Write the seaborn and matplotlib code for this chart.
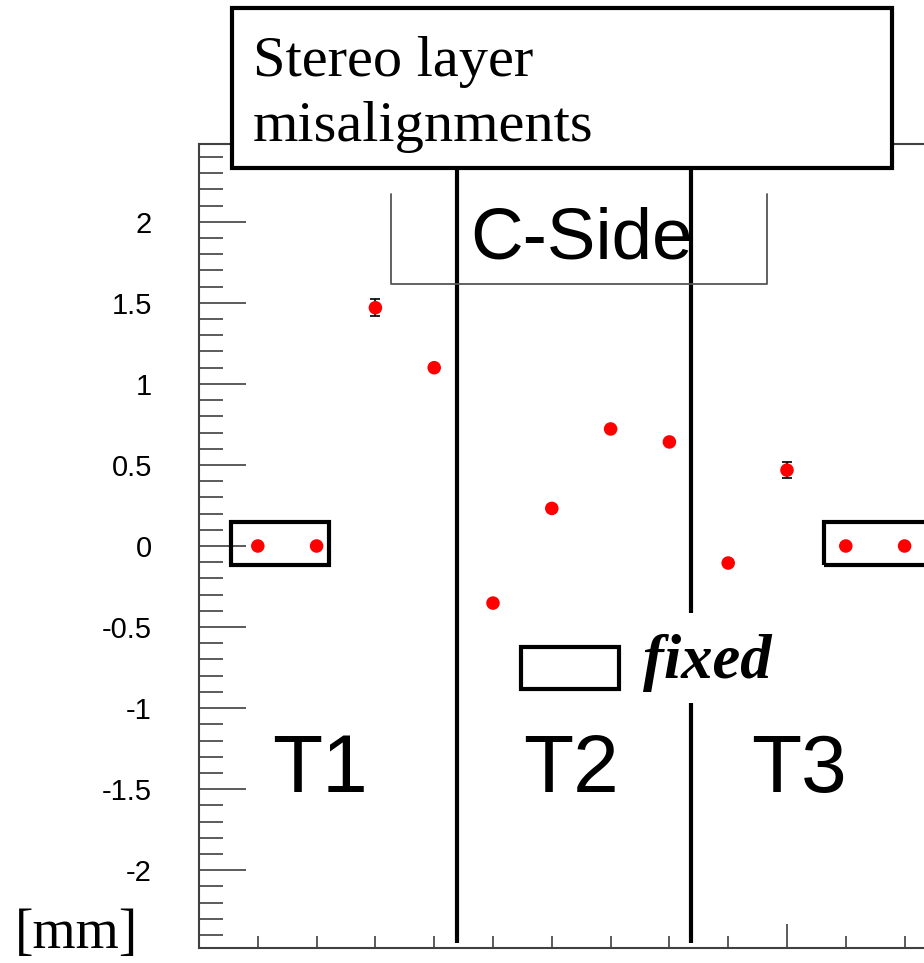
import matplotlib
matplotlib.use("Agg")
import matplotlib.pyplot as plt
from matplotlib.patches import Rectangle
from matplotlib.ticker import MultipleLocator, FixedLocator, FuncFormatter
import seaborn as sns
import pandas as pd

# Misalignment per stereo layer (C-side), layers 1..12
layers = [1, 2, 3, 4, 5, 6, 7, 8, 9, 10, 11, 12]
shift_mm = [0.0, 0.0, 1.47, 1.10, -0.352, 0.232, 0.722, 0.642, -0.105, 0.468, 0.0, 0.0]
shift_err = [0.0, 0.0, 0.052, 0.02, 0.02, 0.02, 0.02, 0.02, 0.02, 0.05, 0.0, 0.0]
station_labels = ["T1", "T2", "T3"]
station_label_x = [2.06, 6.33, 10.2]
station_bounds = [4.39, 8.37]

sns.set_theme(style="white")
plt.rcParams["axes.unicode_minus"] = False
plt.rcParams["font.family"] = ["Liberation Sans", "DejaVu Sans"]
plt.rcParams["text.color"] = "black"
plt.rcParams["ytick.labelcolor"] = "black"

df = pd.DataFrame({"layer": layers, "shift": shift_mm, "err": shift_err})

W, H = 924, 963
fig = plt.figure(figsize=(W / 100, H / 100), dpi=100)
ax = fig.add_axes([199 / W, 15 / H, (W - 199) / W, (948 - 144) / H])

ax.set_xlim(0, 12.33)
ax.set_ylim(-2.48, 2.48)

# error bars then the markers
ax.errorbar(df["layer"], df["shift"], yerr=df["err"], fmt="none",
            ecolor="black", elinewidth=1.2, capsize=3.5, capthick=1.2, zorder=3)
sns.scatterplot(data=df, x="layer", y="shift", ax=ax, color="#ff0000",
                s=95, edgecolor="none", zorder=4, legend=False)

# axis frame and ticks
spine_col = "#404040"
for side in ["left", "bottom", "top"]:
    ax.spines[side].set_visible(True)
    ax.spines[side].set_color(spine_col)
    ax.spines[side].set_linewidth(1.5)
ax.spines["right"].set_visible(False)

ax.yaxis.set_major_locator(MultipleLocator(0.5))
ax.yaxis.set_minor_locator(MultipleLocator(0.1))
ax.xaxis.set_major_locator(FixedLocator([0, 10]))
ax.xaxis.set_minor_locator(FixedLocator([1, 2, 3, 4, 5, 6, 7, 8, 9, 11, 12]))
ax.yaxis.set_major_formatter(FuncFormatter(lambda v, p: ("%g" % v).replace("\u2212", "-")))
ax.xaxis.set_major_formatter(FuncFormatter(lambda v, p: ""))

ax.tick_params(axis="y", which="major", direction="in", length=34, width=1.2,
               color=spine_col, labelsize=21, labelcolor="black", pad=34, left=True)
ax.tick_params(axis="y", which="minor", direction="in", length=17, width=1.2,
               color=spine_col, left=True)
ax.tick_params(axis="x", which="major", direction="in", length=17, width=1.2,
               color=spine_col, bottom=True)
ax.tick_params(axis="x", which="minor", direction="in", length=8.5, width=1.2,
               color=spine_col, bottom=True)
ax.set_xlabel("")
ax.set_ylabel("")
for lab in ax.get_yticklabels():
    lab.set_family(["Liberation Sans", "DejaVu Sans"])

# station separators
ax.plot([station_bounds[0]] * 2, [-2.45, 2.32], color="black", lw=3, zorder=2,
        solid_capstyle="butt")
ax.plot([station_bounds[1]] * 2, [-0.969, -2.45], color="black", lw=3, zorder=2,
        solid_capstyle="butt")
ax.plot([station_bounds[1]] * 2, [2.32, -0.414], color="black", lw=3, zorder=2,
        solid_capstyle="butt")

for lbl, xv in zip(station_labels, station_label_x):
    ax.text(xv, -1.385, lbl, ha="center", va="center", fontsize=59,
            family="Liberation Sans", color="black")

# C-Side bracket
ax.plot([3.27, 3.27, 9.66, 9.66], [2.173, 1.617, 1.617, 2.173],
        color="#555555", lw=1.3, zorder=2)
ax.text(6.5, 1.89, "C-Side", ha="center", va="center", fontsize=52.5,
        family="Liberation Sans", color="black", zorder=3)

# boxes around fixed layers
box_kw = dict(fill=False, edgecolor="black", lw=3, zorder=5)
ax.add_patch(Rectangle((0.544, -0.117), 2.21 - 0.544, 0.265, **box_kw))
ax.add_patch(Rectangle((10.63, -0.117), 2.0, 0.265, clip_on=True, **box_kw))
ax.add_patch(Rectangle((5.48, -0.883), 7.14 - 5.48, 0.26, **box_kw))
ax.text(7.55, -0.72, "fixed", ha="left", va="center", fontsize=45,
        family="Liberation Serif", style="italic", weight="bold", color="black")

# title box sitting over the frame
title_box = Rectangle((232 / W, 1 - 168 / H), (892 - 232) / W, 160 / H,
                      transform=fig.transFigure, facecolor="white",
                      edgecolor="black", lw=3, zorder=10)
fig.patches.append(title_box)
fig.text(253 / W, 1 - 62 / H, "Stereo layer", fontsize=42,
         family="Liberation Serif", ha="left", va="center", color="black", zorder=11)
fig.text(253 / W, 1 - 127 / H, "misalignments", fontsize=42,
         family="Liberation Serif", ha="left", va="center", color="black", zorder=11)

fig.text(15 / W, 1 - 934 / H, "[mm]", fontsize=40, family="Liberation Serif",
         ha="left", va="center", color="black")

fig.savefig("out.png", dpi=100)
